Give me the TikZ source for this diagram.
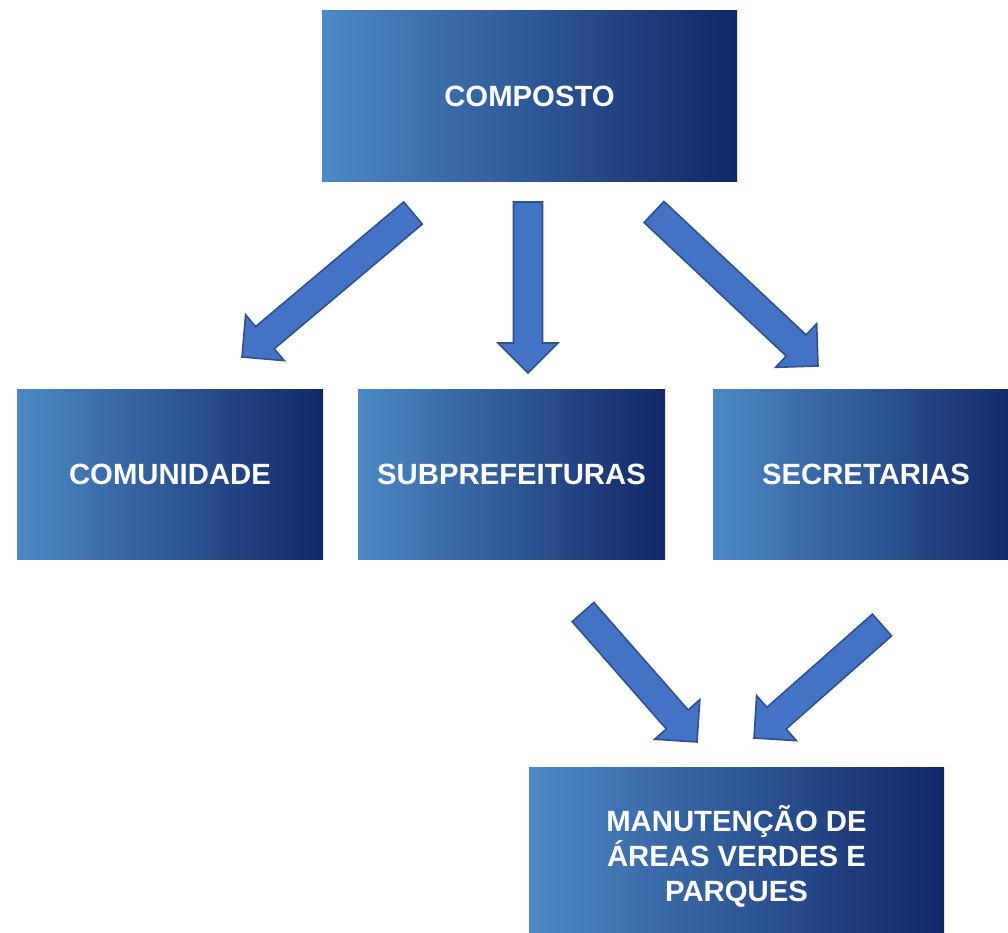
\documentclass[tikz,border=0pt]{standalone}
\usepackage{fontspec}
\setmainfont{Liberation Sans}
\usetikzlibrary{calc}
\definecolor{gl}{RGB}{76,137,197}
\definecolor{gr}{RGB}{18,39,103}
\definecolor{arrfill}{RGB}{68,114,196}
\definecolor{arredge}{RGB}{47,82,143}
\tikzset{
  box/.style={rectangle, inner sep=0pt, draw=none, left color=gl, right color=gr,
    text=white, font=\fontsize{29.3}{35}\selectfont\bfseries, align=center},
  blockarr/.style={fill=arrfill, draw=arredge, line width=1.6pt, line join=miter},
}
\newcommand{\blockarrow}[2]{%
  \coordinate (h) at ($(#2)!30pt!(#1)$);
  \draw[blockarr] ($(#1)!14.5pt!90:(#2)$) -- ($(h)!14.5pt!90:(#2)$) -- ($(h)!30pt!90:(#2)$)
    -- (#2) -- ($(h)!30pt!-90:(#2)$) -- ($(h)!14.5pt!-90:(#2)$) -- ($(#1)!14.5pt!-90:(#2)$) -- cycle;
}
\begin{document}
\begin{tikzpicture}[x=1pt,y=-1pt]
\useasboundingbox (0,0) rectangle (1008,933);
\clip (0,0) rectangle (1008,933);
\node[box, minimum width=415pt, minimum height=171pt] (composto) at (529.5,96.5) {COMPOSTO};
\node[box, minimum width=306pt, minimum height=170pt] (comunidade) at (170,474.5) {COMUNIDADE};
\node[box, minimum width=307pt, minimum height=170pt] (subpref) at (511.5,474.5) {SUBPREFEITURAS};
\node[box, minimum width=306pt, minimum height=170pt] (secret) at (866,474.5) {SECRETARIAS};
\node[box, minimum width=415pt, minimum height=178pt] (manut) at (736.5,856) {MANUTENÇÃO DE\\ÁREAS VERDES E\\PARQUES};
% arrow end points
\coordinate (a1s) at (413,213);  \coordinate (a1e) at (242,357);
\coordinate (a2s) at (528,202);  \coordinate (a2e) at (528,373);
\coordinate (a3s) at (654,212);  \coordinate (a3e) at (818,366);
\coordinate (a4s) at (583,612);  \coordinate (a4e) at (697,742);
\coordinate (a5s) at (882,625);  \coordinate (a5e) at (754,738);
\blockarrow{a1s}{a1e}
\blockarrow{a2s}{a2e}
\blockarrow{a3s}{a3e}
\blockarrow{a4s}{a4e}
\blockarrow{a5s}{a5e}
\end{tikzpicture}
\end{document}
